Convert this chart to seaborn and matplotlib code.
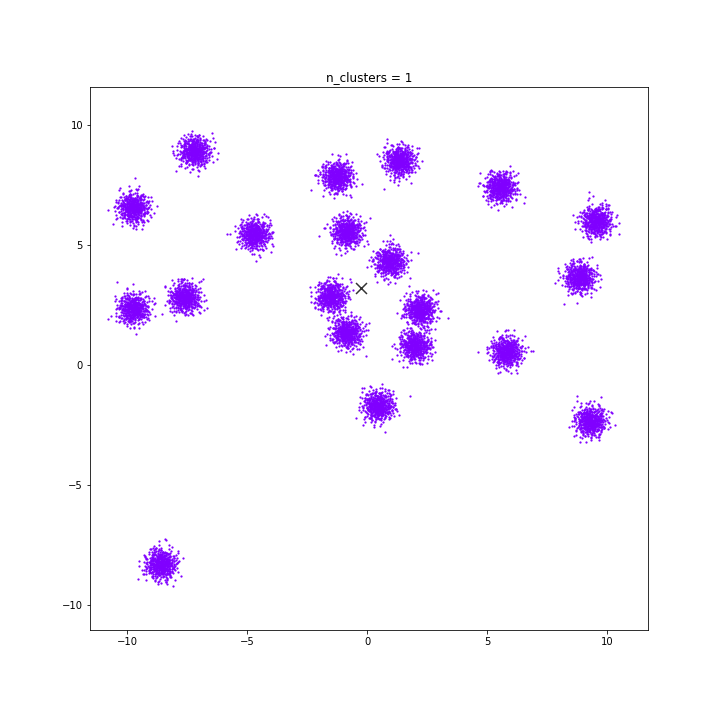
import numpy as np
import pandas as pd
import matplotlib
matplotlib.use("Agg")
import matplotlib.pyplot as plt
import seaborn as sns

# Cluster centres
center_x = [-7.2, -9.75, -4.7, -9.75, -7.6, -1.25, 1.35, -0.85, 0.95, -1.5,
            -0.85, 2.2, 2.0, 0.45, 5.55, 9.55, 8.85, 5.8, 9.3, -8.6]
center_y = [8.9, 6.55, 5.45, 2.35, 2.8, 7.85, 8.5, 5.55, 4.3, 2.85,
            1.35, 2.3, 0.8, -1.7, 7.4, 6.0, 3.65, 0.55, -2.35, -8.3]
cluster_spread = [0.32] * 20
points_per_cluster = 500

# Centroid marker ("n_clusters = 1")
centroid_x = [-0.25]
centroid_y = [3.2]
title_text = "n_clusters = 1"
xticks = [-10, -5, 0, 5, 10]
yticks = [-10, -5, 0, 5, 10]


def halton(n, base):
    out = np.zeros(len(n))
    f = 1.0
    n = n.copy()
    while np.any(n > 0):
        f /= base
        out += f * (n % base)
        n //= base
    return out


# deterministic low-discrepancy offsets mapped to a Gaussian shape
xs, ys = [], []
for k, (cx, cy, sd) in enumerate(zip(center_x, center_y, cluster_spread)):
    idx = np.arange(1, points_per_cluster + 1) + 613 * k
    u = np.clip(halton(idx, 2), 1e-4, 1 - 1e-4)
    v = halton(idx, 3)
    w = halton(idx, 5)
    r = np.sqrt(-2 * np.log(u))
    th = 2 * np.pi * ((v + 0.618 * w) % 1.0)
    xs.append(cx + sd * r * np.cos(th))
    ys.append(cy + sd * r * np.sin(th))

df = pd.DataFrame({"x": np.concatenate(xs), "y": np.concatenate(ys)})

fig = plt.figure(figsize=(10, 10), dpi=72)
ax = fig.add_axes([90 / 720, 90 / 720, 558 / 720, 543 / 720])
sns.scatterplot(data=df, x="x", y="y", ax=ax, s=5, color="#8000ff",
                linewidth=0, legend=False)
ax.scatter(centroid_x, centroid_y, marker="x", s=120, color="#333333",
           linewidths=1.5, zorder=5)
ax.set_xlim(-11.55, 11.7)
ax.set_ylim(-11.05, 11.58)
ax.set_xticks(xticks)
ax.set_yticks(yticks)
ax.set_xlabel("")
ax.set_ylabel("")
ax.set_title(title_text, fontsize=12)
ax.tick_params(labelsize=10)
fig.savefig("out.png", dpi=72)
